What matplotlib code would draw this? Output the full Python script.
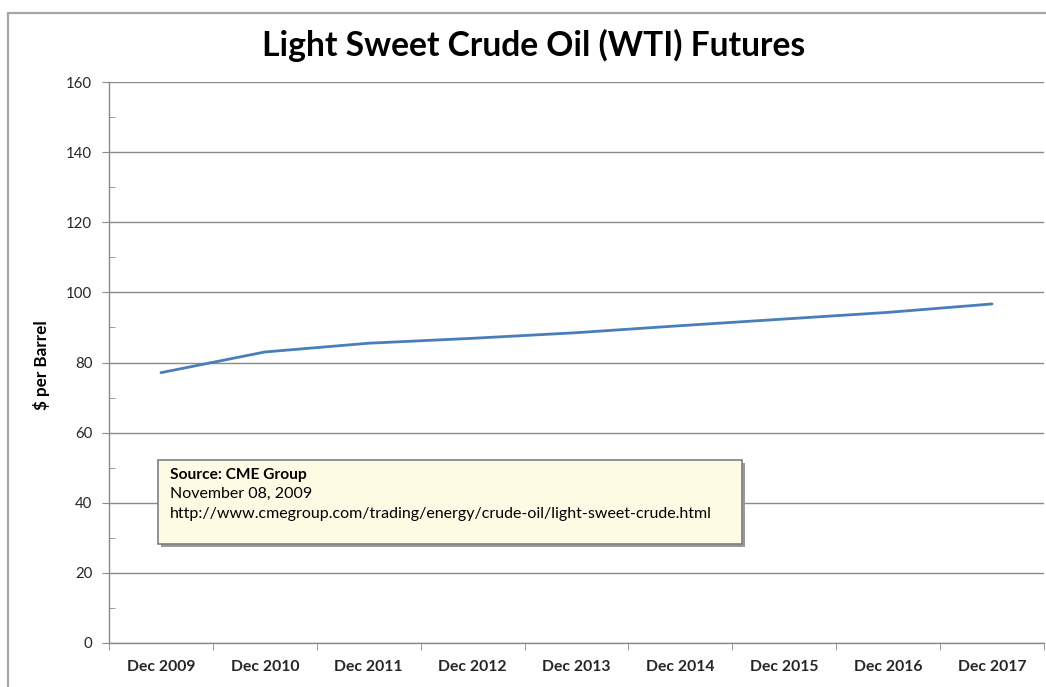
import matplotlib
matplotlib.use("Agg")
import matplotlib.pyplot as plt
from matplotlib.patches import Rectangle
from matplotlib.ticker import MultipleLocator

plt.rcParams['font.family'] = ['Lato', 'DejaVu Sans']

# Futures settlement prices per contract month
contracts = ["Dec 2009", "Dec 2010", "Dec 2011", "Dec 2012", "Dec 2013",
             "Dec 2014", "Dec 2015", "Dec 2016", "Dec 2017"]
prices = [77.1, 83.0, 85.5, 86.9, 88.5, 90.5, 92.4, 94.3, 96.7]

title = "Light Sweet Crude Oil (WTI) Futures"
y_label = "$ per Barrel"
note_lines = ["Source: CME Group", "November 08, 2009",
              "http://www.cmegroup.com/trading/energy/crude-oil/light-sweet-crude.html"]

axis_gray = "#8a8a8a"
text_dark = "#262626"

fig = plt.figure(figsize=(10.46, 6.87), dpi=100)
fig.patch.set_facecolor("white")

# chart frame
fig.patches.append(Rectangle((8 / 1046, -0.05), 1.2, 1 - 13 / 687 + 0.05,
                             transform=fig.transFigure, fill=False,
                             edgecolor="#a6a6a6", linewidth=1.6, zorder=0))

ax = fig.add_axes([109 / 1046, 1 - 643 / 687, (1044 - 109) / 1046, (643 - 82) / 687])
x = list(range(len(contracts)))
ax.plot(x, prices, color="#4a7ebb", linewidth=2.0, solid_capstyle="round", zorder=3)

ax.set_xlim(-0.5, len(contracts) - 0.5)
ax.set_ylim(0, 160)
ax.yaxis.set_major_locator(MultipleLocator(20))
ax.yaxis.set_minor_locator(MultipleLocator(10))
ax.grid(axis="y", which="major", color=axis_gray, linewidth=1.0)
ax.set_axisbelow(True)

for side in ("top", "right"):
    ax.spines[side].set_visible(False)
for side in ("left", "bottom"):
    ax.spines[side].set_color(axis_gray)
    ax.spines[side].set_linewidth(1.0)

# category labels centred, tick marks on the category boundaries
ax.set_xticks(x)
ax.set_xticklabels(contracts, fontsize=11.3, fontweight="bold", color=text_dark)
ax.tick_params(axis="x", which="major", length=0, pad=12)
ax.set_xticks([i - 0.5 for i in range(len(contracts) + 1)], minor=True)
ax.tick_params(axis="x", which="minor", length=5, color=axis_gray, direction="out")

ax.tick_params(axis="y", which="major", length=5, color=axis_gray, direction="out",
               labelsize=10.8, labelcolor=text_dark, pad=7)
ax.tick_params(axis="y", which="minor", length=4, color=axis_gray, direction="in")

fig.text(42 / 1046, 1 - 365 / 687, y_label, rotation=90, ha="center", va="center",
         fontsize=12.3, fontweight="bold", color="black")
fig.text(534 / 1046, 1 - 45 / 687, title, ha="center", va="center",
         fontsize=24.2, fontweight="bold", color="black")

# source note box
bx0, by0 = (158 - 109) / 935, (643 - 544) / 561
bw, bh = (742 - 158) / 935, (544 - 460) / 561
ax.add_patch(Rectangle((bx0 + 0.003, by0 - 0.006), bw, bh, transform=ax.transAxes,
                       facecolor="#9a9a9a", edgecolor="none", zorder=4))
ax.add_patch(Rectangle((bx0, by0), bw, bh, transform=ax.transAxes,
                       facecolor="#fdfbe4", edgecolor="#7f7f7f", linewidth=1.2, zorder=5))
tx = bx0 + 12 / 935
ax.text(tx, (643 - 475) / 561, note_lines[0], transform=ax.transAxes, fontsize=11.2,
        fontweight="bold", color="black", va="center", zorder=6)
ax.text(tx, (643 - 494) / 561, note_lines[1], transform=ax.transAxes, fontsize=11.5,
        color="black", va="center", zorder=6)
ax.text(tx, (643 - 514) / 561, note_lines[2], transform=ax.transAxes, fontsize=11.5,
        color="black", va="center", zorder=6)

fig.savefig("out.png", dpi=100)
